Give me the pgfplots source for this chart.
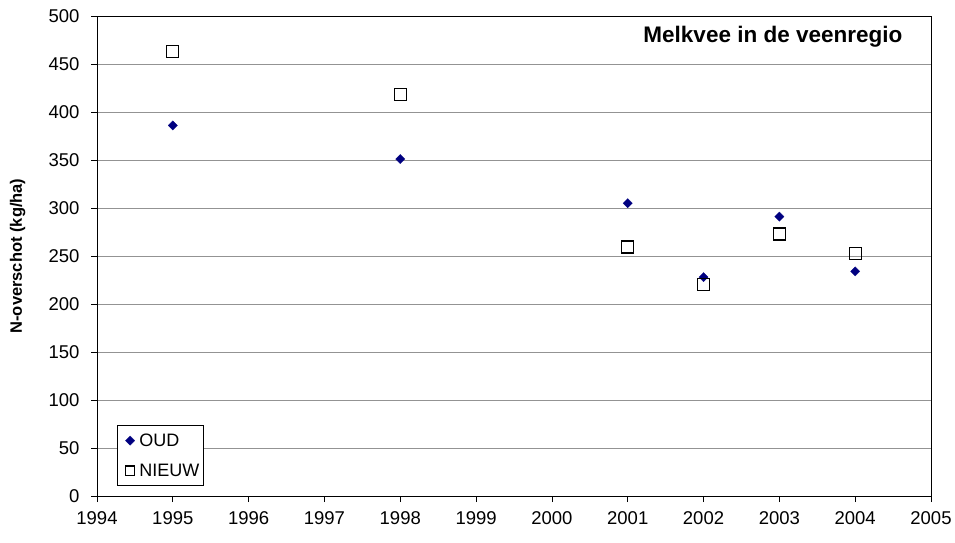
\documentclass[border=0pt]{standalone}
\usepackage{pgfplots}
\pgfplotsset{compat=1.18}
\usepackage{fontspec}
\setmainfont{Liberation Sans}

\definecolor{oudblue}{RGB}{0,0,128}

\begin{document}
\begin{tikzpicture}
\begin{axis}[
  name=ax,
  scale only axis,
  width=834pt, height=480pt,
  xmin=1994, xmax=2005,
  ymin=0, ymax=500,
  xtick={1994,1995,...,2005},
  ytick={0,50,...,500},
  xtick pos=bottom,
  ytick pos=left,
  axis line style={black, line width=0.8pt},
  tick style={black, line width=0.8pt},
  tick align=outside,
  major tick length=6pt,
  ymajorgrids,
  major grid style={gray!85, line width=0.8pt},
  /pgf/number format/1000 sep={},
  /pgf/number format/assume math mode=true,
  tick label style={font=\fontsize{18.5}{20}\selectfont},
  xticklabel style={yshift=-6pt},
  yticklabel style={xshift=-8pt},
  ylabel={\bfseries N-overschot (kg/ha)},
  ylabel style={font=\fontsize{16.5}{18}\selectfont,
    at={(axis description cs:-0.095,0.5)}, anchor=center},
  legend style={at={(0.024,0.021)}, anchor=south west, draw=black,
    line width=0.8pt, font=\fontsize{18}{20}\selectfont,
    row sep=12pt, inner xsep=2pt, inner ysep=6pt,
    nodes={inner xsep=2pt}},
  legend cell align=left,
  legend image code/.code={
    \path (0cm,0cm) (0.6cm,0cm);
    \draw[#1] plot coordinates {(0.36cm,0cm)};},
  clip=false,
]
\addplot[only marks, mark=square*, mark size=3.3pt,
  mark options={rotate=45, fill=oudblue, draw=oudblue, line width=0.2pt}]
  coordinates {
  (1995,386) (1998,351) (2001,305) (2002,228) (2003,291) (2004,234)
  };
\addlegendentry{OUD}
\addplot[only marks, mark=square, mark size=6pt,
  mark options={draw=black, line width=1.3pt},
  legend image post style={mark size=4.6pt, line width=1pt}]
  coordinates {
  (1995,463) (1998,418) (2001,259.5) (2002,220.5) (2003,273) (2004,252.5)
  };
\addlegendentry{NIEUW}
\node[anchor=west, font=\bfseries\fontsize{22.5}{24}\selectfont]
  at (rel axis cs:0.651,0.956) {Melkvee in de veenregio};
\end{axis}
\path (ax.south west) ++(-97pt,-46pt) rectangle ++(955pt,542pt);
\end{tikzpicture}
\end{document}
